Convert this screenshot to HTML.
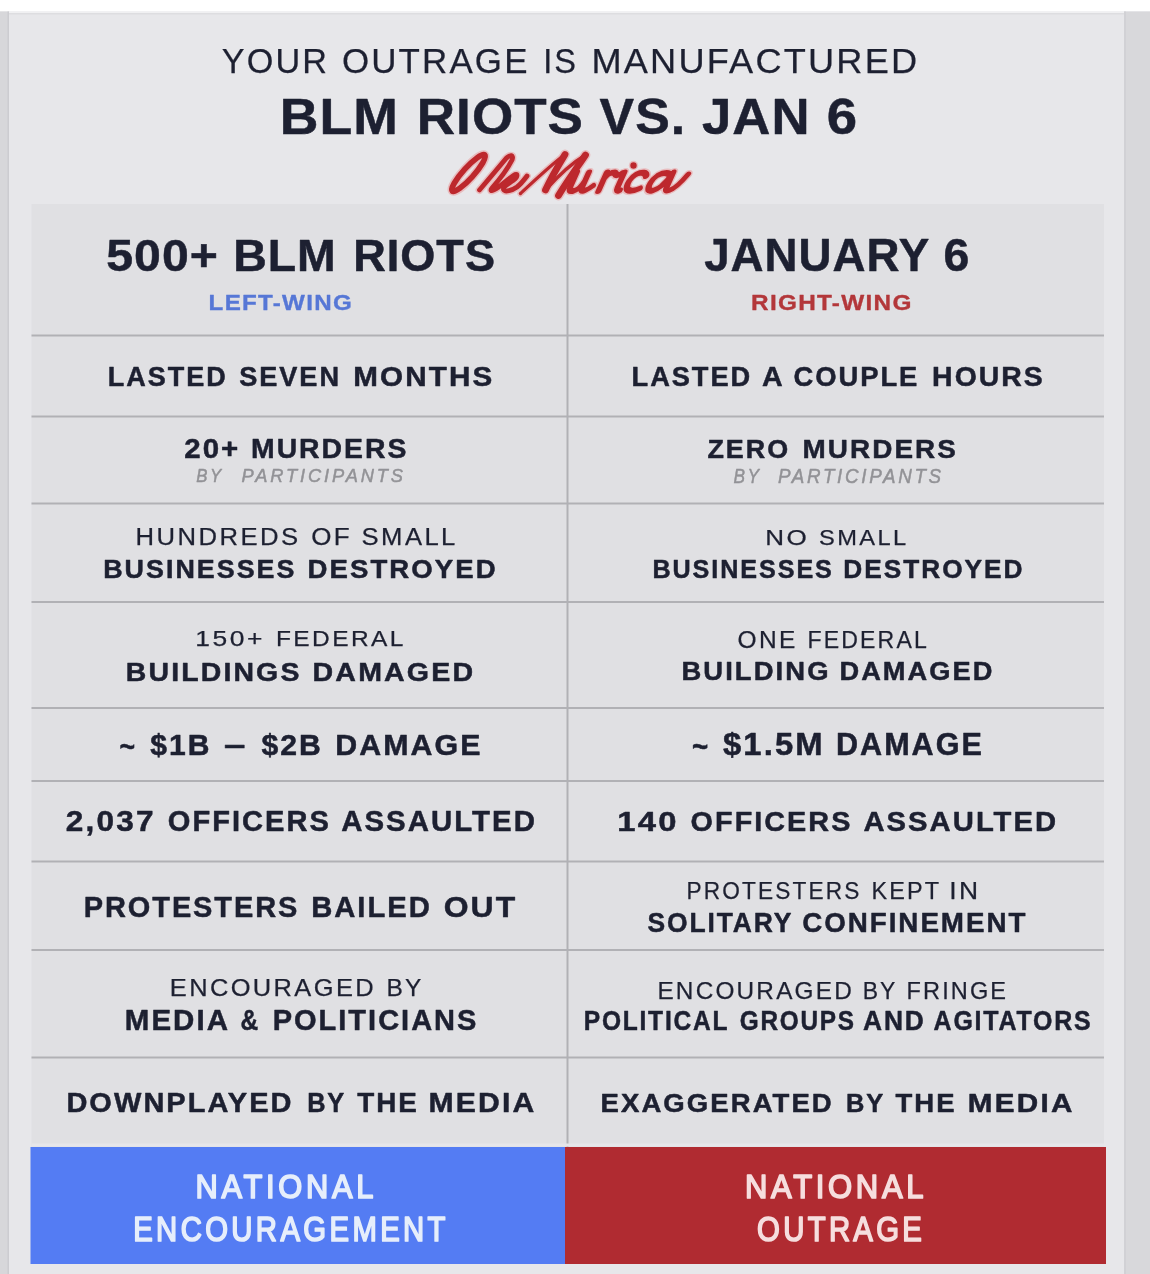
<!DOCTYPE html>
<html><head><meta charset="utf-8"><style>
html,body{margin:0;padding:0;width:1150px;height:1274px;overflow:hidden;background:#e7e7ea}
svg{display:block;filter:blur(0.75px)}
text{font-family:"Liberation Sans",sans-serif}
</style></head><body>
<svg width="1150" height="1274" viewBox="0 0 1150 1274">
<rect x="0" y="0" width="1150" height="1274" fill="#e7e7ea"/>
<rect x="0" y="0" width="1150" height="11.5" fill="#ffffff"/>
<rect x="0" y="11.5" width="1150" height="1.5" fill="#f0f0f2"/>
<rect x="0" y="13" width="1150" height="1.5" fill="#dddde0"/>
<rect x="0" y="11.5" width="9" height="1263" fill="#d7d7da"/>
<rect x="7.5" y="11.5" width="1.5" height="1263" fill="#ccccd0"/>
<rect x="1124" y="11.5" width="26" height="1263" fill="#d8d8db"/>
<rect x="1124" y="11.5" width="2" height="1263" fill="#d1d1d5"/>
<rect x="31.5" y="204" width="1072.5" height="943" fill="#e0e0e3"/>
<g fill="#b1b1b5">
<rect x="31.5" y="334.5" width="1072.5" height="2"/>
<rect x="31.5" y="415.5" width="1072.5" height="2"/>
<rect x="31.5" y="502.5" width="1072.5" height="2"/>
<rect x="31.5" y="601" width="1072.5" height="2"/>
<rect x="31.5" y="707" width="1072.5" height="2"/>
<rect x="31.5" y="780" width="1072.5" height="2"/>
<rect x="31.5" y="860.5" width="1072.5" height="2"/>
<rect x="31.5" y="949" width="1072.5" height="2"/>
<rect x="31.5" y="1056.5" width="1072.5" height="2"/>
<rect x="566.5" y="204" width="2" height="943"/>
</g>
<rect x="31.5" y="1143.5" width="1072.5" height="3" fill="#e6e6ea"/>
<rect x="30.5" y="1147" width="534.5" height="117" fill="#547cf3"/>
<rect x="565" y="1147" width="541" height="117" fill="#b02b31"/>

<text id="t1_0" x="221.80" y="73.40" font-size="35.79" textLength="107.30" lengthAdjust="spacingAndGlyphs" fill="#1d2031" stroke-width="0.25" stroke="#1d2031" stroke-linejoin="round" letter-spacing="2.20">YOUR</text>
<text id="t1_1" x="341.90" y="73.40" font-size="35.79" textLength="187.70" lengthAdjust="spacingAndGlyphs" fill="#1d2031" stroke-width="0.25" stroke="#1d2031" stroke-linejoin="round" letter-spacing="2.20">OUTRAGE</text>
<text id="t1_2" x="543.20" y="73.40" font-size="35.79" textLength="34.80" lengthAdjust="spacingAndGlyphs" fill="#1d2031" stroke-width="0.25" stroke="#1d2031" stroke-linejoin="round" letter-spacing="2.20">IS</text>
<text id="t1_3" x="591.40" y="73.40" font-size="35.79" textLength="328.00" lengthAdjust="spacingAndGlyphs" fill="#1d2031" stroke-width="0.25" stroke="#1d2031" stroke-linejoin="round" letter-spacing="2.20">MANUFACTURED</text>
<text id="t2_0" x="279.80" y="134.36" font-size="50.42" textLength="119.20" lengthAdjust="spacingAndGlyphs" fill="#1d2031" font-weight="bold" stroke-width="0.50" stroke="#1d2031" stroke-linejoin="round" letter-spacing="1.00">BLM</text>
<text id="t2_1" x="416.80" y="134.36" font-size="50.42" textLength="167.20" lengthAdjust="spacingAndGlyphs" fill="#1d2031" font-weight="bold" stroke-width="0.50" stroke="#1d2031" stroke-linejoin="round" letter-spacing="1.00">RIOTS</text>
<text id="t2_2" x="599.60" y="134.36" font-size="50.42" textLength="86.60" lengthAdjust="spacingAndGlyphs" fill="#1d2031" font-weight="bold" stroke-width="0.50" stroke="#1d2031" stroke-linejoin="round" letter-spacing="1.00">VS.</text>
<text id="t2_3" x="702.00" y="134.36" font-size="50.42" textLength="108.60" lengthAdjust="spacingAndGlyphs" fill="#1d2031" font-weight="bold" stroke-width="0.50" stroke="#1d2031" stroke-linejoin="round" letter-spacing="1.00">JAN</text>
<text id="t2_4" x="826.80" y="134.36" font-size="50.42" textLength="31.40" lengthAdjust="spacingAndGlyphs" fill="#1d2031" font-weight="bold" stroke-width="0.50" stroke="#1d2031" stroke-linejoin="round" letter-spacing="1.00">6</text>
<text id="h1_0" x="106.20" y="271.00" font-size="44.93" textLength="112.80" lengthAdjust="spacingAndGlyphs" fill="#1d2031" font-weight="bold" stroke-width="0.50" stroke="#1d2031" stroke-linejoin="round" letter-spacing="1.00">500+</text>
<text id="h1_1" x="233.20" y="271.00" font-size="44.93" textLength="103.60" lengthAdjust="spacingAndGlyphs" fill="#1d2031" font-weight="bold" stroke-width="0.50" stroke="#1d2031" stroke-linejoin="round" letter-spacing="1.00">BLM</text>
<text id="h1_2" x="353.20" y="271.00" font-size="44.93" textLength="142.80" lengthAdjust="spacingAndGlyphs" fill="#1d2031" font-weight="bold" stroke-width="0.50" stroke="#1d2031" stroke-linejoin="round" letter-spacing="1.00">RIOTS</text>
<text id="h1s" x="208.60" y="310.36" font-size="22.81" textLength="144.40" lengthAdjust="spacingAndGlyphs" fill="#5677d6" font-weight="bold" stroke-width="0.35" stroke="#5677d6" stroke-linejoin="round" letter-spacing="1.20" xml:space="preserve">LEFT-WING</text>
<text id="h2_0" x="704.20" y="271.40" font-size="46.71" textLength="226.00" lengthAdjust="spacingAndGlyphs" fill="#1d2031" font-weight="bold" stroke-width="0.50" stroke="#1d2031" stroke-linejoin="round" letter-spacing="1.00">JANUARY</text>
<text id="h2_1" x="943.40" y="271.40" font-size="46.71" textLength="26.80" lengthAdjust="spacingAndGlyphs" fill="#1d2031" font-weight="bold" stroke-width="0.50" stroke="#1d2031" stroke-linejoin="round" letter-spacing="1.00">6</text>
<text id="h2s" x="751.10" y="310.32" font-size="22.74" textLength="161.50" lengthAdjust="spacingAndGlyphs" fill="#b3373a" font-weight="bold" stroke-width="0.35" stroke="#b3373a" stroke-linejoin="round" letter-spacing="1.20" xml:space="preserve">RIGHT-WING</text>
<text id="r1a_0" x="107.80" y="386.40" font-size="27.54" textLength="120.00" lengthAdjust="spacingAndGlyphs" fill="#1d2031" font-weight="bold" stroke-width="0.50" stroke="#1d2031" stroke-linejoin="round" letter-spacing="2.00">LASTED</text>
<text id="r1a_1" x="239.20" y="386.40" font-size="27.54" textLength="101.80" lengthAdjust="spacingAndGlyphs" fill="#1d2031" font-weight="bold" stroke-width="0.50" stroke="#1d2031" stroke-linejoin="round" letter-spacing="2.00">SEVEN</text>
<text id="r1a_2" x="353.20" y="386.40" font-size="27.54" textLength="141.20" lengthAdjust="spacingAndGlyphs" fill="#1d2031" font-weight="bold" stroke-width="0.50" stroke="#1d2031" stroke-linejoin="round" letter-spacing="2.00">MONTHS</text>
<text id="r1b_0" x="631.60" y="386.36" font-size="28.22" textLength="120.50" lengthAdjust="spacingAndGlyphs" fill="#1d2031" font-weight="bold" stroke-width="0.50" stroke="#1d2031" stroke-linejoin="round" letter-spacing="2.00">LASTED</text>
<text id="r1b_1" x="762.00" y="386.36" font-size="28.22" textLength="22.70" lengthAdjust="spacingAndGlyphs" fill="#1d2031" font-weight="bold" stroke-width="0.50" stroke="#1d2031" stroke-linejoin="round" letter-spacing="2.00">A</text>
<text id="r1b_2" x="793.50" y="386.36" font-size="28.22" textLength="125.80" lengthAdjust="spacingAndGlyphs" fill="#1d2031" font-weight="bold" stroke-width="0.50" stroke="#1d2031" stroke-linejoin="round" letter-spacing="2.00">COUPLE</text>
<text id="r1b_3" x="932.10" y="386.36" font-size="28.22" textLength="112.70" lengthAdjust="spacingAndGlyphs" fill="#1d2031" font-weight="bold" stroke-width="0.50" stroke="#1d2031" stroke-linejoin="round" letter-spacing="2.00">HOURS</text>
<text id="r2a_0" x="184.20" y="458.40" font-size="28.40" textLength="56.20" lengthAdjust="spacingAndGlyphs" fill="#1d2031" font-weight="bold" stroke-width="0.50" stroke="#1d2031" stroke-linejoin="round" letter-spacing="2.00">20+</text>
<text id="r2a_1" x="251.00" y="458.40" font-size="28.40" textLength="157.40" lengthAdjust="spacingAndGlyphs" fill="#1d2031" font-weight="bold" stroke-width="0.50" stroke="#1d2031" stroke-linejoin="round" letter-spacing="2.00">MURDERS</text>
<text id="r2as_0" x="196.20" y="482.04" font-size="19.17" textLength="27.60" lengthAdjust="spacingAndGlyphs" fill="#929296" font-style="italic" stroke-width="0.50" stroke="#929296" stroke-linejoin="round" letter-spacing="3.00">BY</text>
<text id="r2as_1" x="241.60" y="482.04" font-size="19.17" textLength="164.20" lengthAdjust="spacingAndGlyphs" fill="#929296" font-style="italic" stroke-width="0.50" stroke="#929296" stroke-linejoin="round" letter-spacing="3.00">PARTICIPANTS</text>
<text id="r2b_0" x="707.40" y="458.36" font-size="26.60" textLength="82.80" lengthAdjust="spacingAndGlyphs" fill="#1d2031" font-weight="bold" stroke-width="0.50" stroke="#1d2031" stroke-linejoin="round" letter-spacing="2.00">ZERO</text>
<text id="r2b_1" x="802.40" y="458.36" font-size="26.60" textLength="155.60" lengthAdjust="spacingAndGlyphs" fill="#1d2031" font-weight="bold" stroke-width="0.50" stroke="#1d2031" stroke-linejoin="round" letter-spacing="2.00">MURDERS</text>
<text id="r2bs_0" x="733.40" y="482.64" font-size="21.02" textLength="28.00" lengthAdjust="spacingAndGlyphs" fill="#929296" font-style="italic" stroke-width="0.50" stroke="#929296" stroke-linejoin="round" letter-spacing="3.00">BY</text>
<text id="r2bs_1" x="778.00" y="482.64" font-size="21.02" textLength="165.80" lengthAdjust="spacingAndGlyphs" fill="#929296" font-style="italic" stroke-width="0.50" stroke="#929296" stroke-linejoin="round" letter-spacing="3.00">PARTICIPANTS</text>
<text id="r3a1_0" x="135.60" y="545.00" font-size="23.10" textLength="165.00" lengthAdjust="spacingAndGlyphs" fill="#1d2031" stroke-width="0.25" stroke="#1d2031" stroke-linejoin="round" letter-spacing="2.20">HUNDREDS</text>
<text id="r3a1_1" x="311.20" y="545.00" font-size="23.10" textLength="41.00" lengthAdjust="spacingAndGlyphs" fill="#1d2031" stroke-width="0.25" stroke="#1d2031" stroke-linejoin="round" letter-spacing="2.20">OF</text>
<text id="r3a1_2" x="361.60" y="545.00" font-size="23.10" textLength="96.20" lengthAdjust="spacingAndGlyphs" fill="#1d2031" stroke-width="0.25" stroke="#1d2031" stroke-linejoin="round" letter-spacing="2.20">SMALL</text>
<text id="r3a2_0" x="103.20" y="577.96" font-size="26.42" textLength="193.30" lengthAdjust="spacingAndGlyphs" fill="#1d2031" font-weight="bold" stroke-width="0.50" stroke="#1d2031" stroke-linejoin="round" letter-spacing="2.00">BUSINESSES</text>
<text id="r3a2_1" x="307.50" y="577.96" font-size="26.42" textLength="190.30" lengthAdjust="spacingAndGlyphs" fill="#1d2031" font-weight="bold" stroke-width="0.50" stroke="#1d2031" stroke-linejoin="round" letter-spacing="2.00">DESTROYED</text>
<text id="r3b1_0" x="765.20" y="545.32" font-size="21.91" textLength="44.30" lengthAdjust="spacingAndGlyphs" fill="#1d2031" stroke-width="0.25" stroke="#1d2031" stroke-linejoin="round" letter-spacing="2.20">NO</text>
<text id="r3b1_1" x="819.10" y="545.32" font-size="21.91" textLength="89.50" lengthAdjust="spacingAndGlyphs" fill="#1d2031" stroke-width="0.25" stroke="#1d2031" stroke-linejoin="round" letter-spacing="2.20">SMALL</text>
<text id="r3b2_0" x="652.40" y="578.32" font-size="26.09" textLength="181.40" lengthAdjust="spacingAndGlyphs" fill="#1d2031" font-weight="bold" stroke-width="0.50" stroke="#1d2031" stroke-linejoin="round" letter-spacing="2.00">BUSINESSES</text>
<text id="r3b2_1" x="843.20" y="578.32" font-size="26.09" textLength="181.40" lengthAdjust="spacingAndGlyphs" fill="#1d2031" font-weight="bold" stroke-width="0.50" stroke="#1d2031" stroke-linejoin="round" letter-spacing="2.00">DESTROYED</text>
<text id="r4a1_0" x="195.20" y="646.40" font-size="22.65" textLength="69.80" lengthAdjust="spacingAndGlyphs" fill="#1d2031" stroke-width="0.25" stroke="#1d2031" stroke-linejoin="round" letter-spacing="2.20">150+</text>
<text id="r4a1_1" x="276.00" y="646.40" font-size="22.65" textLength="129.80" lengthAdjust="spacingAndGlyphs" fill="#1d2031" stroke-width="0.25" stroke="#1d2031" stroke-linejoin="round" letter-spacing="2.20">FEDERAL</text>
<text id="r4a2_0" x="125.80" y="681.04" font-size="26.43" textLength="175.70" lengthAdjust="spacingAndGlyphs" fill="#1d2031" font-weight="bold" stroke-width="0.50" stroke="#1d2031" stroke-linejoin="round" letter-spacing="2.00">BUILDINGS</text>
<text id="r4a2_1" x="312.60" y="681.04" font-size="26.43" textLength="162.60" lengthAdjust="spacingAndGlyphs" fill="#1d2031" font-weight="bold" stroke-width="0.50" stroke="#1d2031" stroke-linejoin="round" letter-spacing="2.00">DAMAGED</text>
<text id="r4b1_0" x="737.60" y="647.64" font-size="23.36" textLength="60.00" lengthAdjust="spacingAndGlyphs" fill="#1d2031" stroke-width="0.25" stroke="#1d2031" stroke-linejoin="round" letter-spacing="2.20">ONE</text>
<text id="r4b1_1" x="807.40" y="647.64" font-size="23.36" textLength="121.60" lengthAdjust="spacingAndGlyphs" fill="#1d2031" stroke-width="0.25" stroke="#1d2031" stroke-linejoin="round" letter-spacing="2.20">FEDERAL</text>
<text id="r4b2_0" x="681.40" y="680.32" font-size="26.13" textLength="149.20" lengthAdjust="spacingAndGlyphs" fill="#1d2031" font-weight="bold" stroke-width="0.50" stroke="#1d2031" stroke-linejoin="round" letter-spacing="2.00">BUILDING</text>
<text id="r4b2_1" x="839.40" y="680.32" font-size="26.13" textLength="155.20" lengthAdjust="spacingAndGlyphs" fill="#1d2031" font-weight="bold" stroke-width="0.50" stroke="#1d2031" stroke-linejoin="round" letter-spacing="2.00">DAMAGED</text>
<text id="r5a_0" x="119.40" y="757.10" font-size="28.99" textLength="17.40" lengthAdjust="spacingAndGlyphs" fill="#1d2031" font-weight="bold" stroke-width="0.50" stroke="#1d2031" stroke-linejoin="round" letter-spacing="2.00">~</text>
<text id="r5a_1" x="150.20" y="754.60" font-size="28.99" textLength="61.40" lengthAdjust="spacingAndGlyphs" fill="#1d2031" font-weight="bold" stroke-width="0.50" stroke="#1d2031" stroke-linejoin="round" letter-spacing="2.00">$1B</text>
<text id="r5a_2" x="224.00" y="754.60" font-size="28.99" textLength="24.00" lengthAdjust="spacingAndGlyphs" fill="#1d2031" font-weight="bold" stroke-width="0.50" stroke="#1d2031" stroke-linejoin="round" letter-spacing="2.00">–</text>
<text id="r5a_3" x="261.40" y="754.60" font-size="28.99" textLength="61.60" lengthAdjust="spacingAndGlyphs" fill="#1d2031" font-weight="bold" stroke-width="0.50" stroke="#1d2031" stroke-linejoin="round" letter-spacing="2.00">$2B</text>
<text id="r5a_4" x="335.20" y="754.60" font-size="28.99" textLength="147.40" lengthAdjust="spacingAndGlyphs" fill="#1d2031" font-weight="bold" stroke-width="0.50" stroke="#1d2031" stroke-linejoin="round" letter-spacing="2.00">DAMAGE</text>
<text id="r5b_0" x="692.00" y="756.60" font-size="30.87" textLength="18.00" lengthAdjust="spacingAndGlyphs" fill="#1d2031" font-weight="bold" stroke-width="0.50" stroke="#1d2031" stroke-linejoin="round" letter-spacing="2.00">~</text>
<text id="r5b_1" x="723.00" y="754.60" font-size="30.87" textLength="101.80" lengthAdjust="spacingAndGlyphs" fill="#1d2031" font-weight="bold" stroke-width="0.50" stroke="#1d2031" stroke-linejoin="round" letter-spacing="2.00">$1.5M</text>
<text id="r5b_2" x="836.00" y="754.60" font-size="30.87" textLength="147.80" lengthAdjust="spacingAndGlyphs" fill="#1d2031" font-weight="bold" stroke-width="0.50" stroke="#1d2031" stroke-linejoin="round" letter-spacing="2.00">DAMAGE</text>
<text id="r6a_0" x="65.80" y="830.90" font-size="28.84" textLength="90.00" lengthAdjust="spacingAndGlyphs" fill="#1d2031" font-weight="bold" stroke-width="0.50" stroke="#1d2031" stroke-linejoin="round" letter-spacing="2.00">2,037</text>
<text id="r6a_1" x="167.80" y="830.90" font-size="28.84" textLength="163.00" lengthAdjust="spacingAndGlyphs" fill="#1d2031" font-weight="bold" stroke-width="0.50" stroke="#1d2031" stroke-linejoin="round" letter-spacing="2.00">OFFICERS</text>
<text id="r6a_2" x="341.20" y="830.90" font-size="28.84" textLength="195.80" lengthAdjust="spacingAndGlyphs" fill="#1d2031" font-weight="bold" stroke-width="0.50" stroke="#1d2031" stroke-linejoin="round" letter-spacing="2.00">ASSAULTED</text>
<text id="r6b_0" x="617.20" y="830.68" font-size="28.53" textLength="61.60" lengthAdjust="spacingAndGlyphs" fill="#1d2031" font-weight="bold" stroke-width="0.50" stroke="#1d2031" stroke-linejoin="round" letter-spacing="2.00">140</text>
<text id="r6b_1" x="690.60" y="830.68" font-size="28.53" textLength="161.80" lengthAdjust="spacingAndGlyphs" fill="#1d2031" font-weight="bold" stroke-width="0.50" stroke="#1d2031" stroke-linejoin="round" letter-spacing="2.00">OFFICERS</text>
<text id="r6b_2" x="863.40" y="830.68" font-size="28.53" textLength="194.80" lengthAdjust="spacingAndGlyphs" fill="#1d2031" font-weight="bold" stroke-width="0.50" stroke="#1d2031" stroke-linejoin="round" letter-spacing="2.00">ASSAULTED</text>
<text id="r7a_0" x="83.80" y="916.96" font-size="30.10" textLength="215.40" lengthAdjust="spacingAndGlyphs" fill="#1d2031" font-weight="bold" stroke-width="0.50" stroke="#1d2031" stroke-linejoin="round" letter-spacing="2.00">PROTESTERS</text>
<text id="r7a_1" x="311.20" y="916.96" font-size="30.10" textLength="120.50" lengthAdjust="spacingAndGlyphs" fill="#1d2031" font-weight="bold" stroke-width="0.50" stroke="#1d2031" stroke-linejoin="round" letter-spacing="2.00">BAILED</text>
<text id="r7a_2" x="443.70" y="916.96" font-size="30.10" textLength="73.70" lengthAdjust="spacingAndGlyphs" fill="#1d2031" font-weight="bold" stroke-width="0.50" stroke="#1d2031" stroke-linejoin="round" letter-spacing="2.00">OUT</text>
<text id="r7b1_0" x="686.60" y="898.96" font-size="23.39" textLength="174.80" lengthAdjust="spacingAndGlyphs" fill="#1d2031" stroke-width="0.25" stroke="#1d2031" stroke-linejoin="round" letter-spacing="2.20">PROTESTERS</text>
<text id="r7b1_1" x="871.40" y="898.96" font-size="23.39" textLength="70.00" lengthAdjust="spacingAndGlyphs" fill="#1d2031" stroke-width="0.25" stroke="#1d2031" stroke-linejoin="round" letter-spacing="2.20">KEPT</text>
<text id="r7b1_2" x="949.20" y="898.96" font-size="23.39" textLength="31.40" lengthAdjust="spacingAndGlyphs" fill="#1d2031" stroke-width="0.25" stroke="#1d2031" stroke-linejoin="round" letter-spacing="2.20">IN</text>
<text id="r7b2_0" x="647.60" y="932.32" font-size="28.41" textLength="145.60" lengthAdjust="spacingAndGlyphs" fill="#1d2031" font-weight="bold" stroke-width="0.50" stroke="#1d2031" stroke-linejoin="round" letter-spacing="2.00">SOLITARY</text>
<text id="r7b2_1" x="802.20" y="932.32" font-size="28.41" textLength="225.20" lengthAdjust="spacingAndGlyphs" fill="#1d2031" font-weight="bold" stroke-width="0.50" stroke="#1d2031" stroke-linejoin="round" letter-spacing="2.00">CONFINEMENT</text>
<text id="r8a1_0" x="169.80" y="996.32" font-size="23.39" textLength="206.20" lengthAdjust="spacingAndGlyphs" fill="#1d2031" stroke-width="0.25" stroke="#1d2031" stroke-linejoin="round" letter-spacing="2.20">ENCOURAGED</text>
<text id="r8a1_1" x="386.40" y="996.32" font-size="23.39" textLength="37.30" lengthAdjust="spacingAndGlyphs" fill="#1d2031" stroke-width="0.25" stroke="#1d2031" stroke-linejoin="round" letter-spacing="2.20">BY</text>
<text id="r8a2_0" x="124.80" y="1029.80" font-size="28.84" textLength="105.20" lengthAdjust="spacingAndGlyphs" fill="#1d2031" font-weight="bold" stroke-width="0.50" stroke="#1d2031" stroke-linejoin="round" letter-spacing="2.00">MEDIA</text>
<text id="r8a2_1" x="240.40" y="1029.80" font-size="28.84" textLength="19.40" lengthAdjust="spacingAndGlyphs" fill="#1d2031" font-weight="bold" stroke-width="0.50" stroke="#1d2031" stroke-linejoin="round" letter-spacing="2.00">&amp;</text>
<text id="r8a2_2" x="272.70" y="1029.80" font-size="28.84" textLength="205.70" lengthAdjust="spacingAndGlyphs" fill="#1d2031" font-weight="bold" stroke-width="0.50" stroke="#1d2031" stroke-linejoin="round" letter-spacing="2.00">POLITICIANS</text>
<text id="r8b1_0" x="657.40" y="998.68" font-size="24.39" textLength="196.60" lengthAdjust="spacingAndGlyphs" fill="#1d2031" stroke-width="0.25" stroke="#1d2031" stroke-linejoin="round" letter-spacing="2.20">ENCOURAGED</text>
<text id="r8b1_1" x="862.70" y="998.68" font-size="24.39" textLength="34.80" lengthAdjust="spacingAndGlyphs" fill="#1d2031" stroke-width="0.25" stroke="#1d2031" stroke-linejoin="round" letter-spacing="2.20">BY</text>
<text id="r8b1_2" x="906.50" y="998.68" font-size="24.39" textLength="101.70" lengthAdjust="spacingAndGlyphs" fill="#1d2031" stroke-width="0.25" stroke="#1d2031" stroke-linejoin="round" letter-spacing="2.20">FRINGE</text>
<text id="r8b2_0" x="583.80" y="1029.68" font-size="27.92" textLength="145.40" lengthAdjust="spacingAndGlyphs" fill="#1d2031" font-weight="bold" stroke-width="0.50" stroke="#1d2031" stroke-linejoin="round" letter-spacing="2.00">POLITICAL</text>
<text id="r8b2_1" x="739.80" y="1029.68" font-size="27.92" textLength="116.00" lengthAdjust="spacingAndGlyphs" fill="#1d2031" font-weight="bold" stroke-width="0.50" stroke="#1d2031" stroke-linejoin="round" letter-spacing="2.00">GROUPS</text>
<text id="r8b2_2" x="863.00" y="1029.68" font-size="27.92" textLength="62.80" lengthAdjust="spacingAndGlyphs" fill="#1d2031" font-weight="bold" stroke-width="0.50" stroke="#1d2031" stroke-linejoin="round" letter-spacing="2.00">AND</text>
<text id="r8b2_3" x="933.60" y="1029.68" font-size="27.92" textLength="158.80" lengthAdjust="spacingAndGlyphs" fill="#1d2031" font-weight="bold" stroke-width="0.50" stroke="#1d2031" stroke-linejoin="round" letter-spacing="2.00">AGITATORS</text>
<text id="r9a_0" x="66.40" y="1111.96" font-size="28.22" textLength="227.20" lengthAdjust="spacingAndGlyphs" fill="#1d2031" font-weight="bold" stroke-width="0.50" stroke="#1d2031" stroke-linejoin="round" letter-spacing="2.00">DOWNPLAYED</text>
<text id="r9a_1" x="307.20" y="1111.96" font-size="28.22" textLength="38.80" lengthAdjust="spacingAndGlyphs" fill="#1d2031" font-weight="bold" stroke-width="0.50" stroke="#1d2031" stroke-linejoin="round" letter-spacing="2.00">BY</text>
<text id="r9a_2" x="357.20" y="1111.96" font-size="28.22" textLength="61.60" lengthAdjust="spacingAndGlyphs" fill="#1d2031" font-weight="bold" stroke-width="0.50" stroke="#1d2031" stroke-linejoin="round" letter-spacing="2.00">THE</text>
<text id="r9a_3" x="428.60" y="1111.96" font-size="28.22" textLength="107.80" lengthAdjust="spacingAndGlyphs" fill="#1d2031" font-weight="bold" stroke-width="0.50" stroke="#1d2031" stroke-linejoin="round" letter-spacing="2.00">MEDIA</text>
<text id="r9b_0" x="600.60" y="1111.68" font-size="26.50" textLength="233.20" lengthAdjust="spacingAndGlyphs" fill="#1d2031" font-weight="bold" stroke-width="0.50" stroke="#1d2031" stroke-linejoin="round" letter-spacing="2.00">EXAGGERATED</text>
<text id="r9b_1" x="846.00" y="1111.68" font-size="26.50" textLength="39.20" lengthAdjust="spacingAndGlyphs" fill="#1d2031" font-weight="bold" stroke-width="0.50" stroke="#1d2031" stroke-linejoin="round" letter-spacing="2.00">BY</text>
<text id="r9b_2" x="895.40" y="1111.68" font-size="26.50" textLength="61.20" lengthAdjust="spacingAndGlyphs" fill="#1d2031" font-weight="bold" stroke-width="0.50" stroke="#1d2031" stroke-linejoin="round" letter-spacing="2.00">THE</text>
<text id="r9b_3" x="967.80" y="1111.68" font-size="26.50" textLength="106.80" lengthAdjust="spacingAndGlyphs" fill="#1d2031" font-weight="bold" stroke-width="0.50" stroke="#1d2031" stroke-linejoin="round" letter-spacing="2.00">MEDIA</text>
<text id="bb1" x="195.60" y="1197.64" font-size="33.77" textLength="181.40" lengthAdjust="spacingAndGlyphs" fill="#e6eefb" stroke-width="1.70" stroke="#e6eefb" stroke-linejoin="round" letter-spacing="4.00" xml:space="preserve">NATIONAL</text>
<text id="bb2" x="133.20" y="1241.24" font-size="34.90" textLength="315.70" lengthAdjust="spacingAndGlyphs" fill="#e6eefb" stroke-width="1.70" stroke="#e6eefb" stroke-linejoin="round" letter-spacing="4.00" xml:space="preserve">ENCOURAGEMENT</text>
<text id="rb1" x="745.00" y="1198.20" font-size="33.87" textLength="182.20" lengthAdjust="spacingAndGlyphs" fill="#f6dede" stroke-width="1.70" stroke="#f6dede" stroke-linejoin="round" letter-spacing="4.00" xml:space="preserve">NATIONAL</text>
<text id="rb2" x="757.10" y="1241.32" font-size="35.87" textLength="168.10" lengthAdjust="spacingAndGlyphs" fill="#f6dede" stroke-width="1.70" stroke="#f6dede" stroke-linejoin="round" letter-spacing="4.00" xml:space="preserve">OUTRAGE</text>
<g fill="none" stroke="#e9a7a9" stroke-linecap="round" stroke-linejoin="round" opacity="0.65">
<ellipse cx="468.5" cy="173" rx="24.3" ry="5.3" transform="rotate(-48 468.5 173)" stroke-width="8.60"/>
<path stroke-width="7.80" d="M479.5,190 C488,180 499,167 506,158.5 C510.5,154 514,155 512,160 C508,168 499,180 492,188 C489,191.5 493,191.5 498,187.5 C504,183 509,178.5 513.5,175.5 C518,172.5 518.5,176.5 513,180.5 C508,184 503,186.5 503.5,189.5 C505,192.5 512,190.5 517,187 C521,184 524,180 527,176"/>
<path stroke-width="6.40" d="M520.5,193.5 C535,180 552,164 565,154.5"/>
<path stroke-width="9.80" d="M565,154.5 C558,166 551,178 545.5,190"/>
<path stroke-width="6.40" d="M545.5,190 C558,176 572,163 585.5,155"/>
<path stroke-width="9.80" d="M585.5,155 C576,169 566,183 558.5,195.5"/>
<g transform="translate(-1.5 191) skewX(-24) translate(0 -191)">
<path stroke-width="9.00" d="M570,172.5 L570,186 C570,190 572,191.5 575,191 C579,190 581,185 582,180 M582,172.5 L582,187 C582,190 583.5,191 586,190.5 C588,190 590,188 592,186"/>
<path stroke-width="9.00" d="M600,191 L600,172.5 M600,179 C601.5,174.5 604,172.5 607,172.5 C609,172.5 609.5,174.5 611,175 C612.5,175.5 614,174.5 615,173.5"/>
<path stroke-width="9.00" d="M617.5,172.5 L617.5,187 C617.5,190 619,191 621,190.5"/>
<path stroke-width="9.00" d="M641,176 C639.5,172.5 634,171.5 630,174.5 C626,177.5 625,184 627,188 C629,191.5 635,191.5 640,188.5"/>
<path stroke-width="9.00" d="M665,175.5 C662,172 656,172 652,175.5 C648,179.5 647,186 649.5,189.5 C652,192 657,190.5 660.5,186 C663,182.5 665,178 666.5,172.5 L666.5,187 C666.5,190 668,191 671,190 C675,188.5 679,182 682,174.5"/>
</g>
<circle cx="633.5" cy="165.5" r="4.70" fill="#e9a7a9" stroke="none"/>
</g>
<g fill="none" stroke="#bd282d" stroke-linecap="round" stroke-linejoin="round">
<ellipse cx="468.5" cy="173" rx="24.3" ry="5.3" transform="rotate(-48 468.5 173)" stroke-width="5.60"/>
<path stroke-width="4.80" d="M479.5,190 C488,180 499,167 506,158.5 C510.5,154 514,155 512,160 C508,168 499,180 492,188 C489,191.5 493,191.5 498,187.5 C504,183 509,178.5 513.5,175.5 C518,172.5 518.5,176.5 513,180.5 C508,184 503,186.5 503.5,189.5 C505,192.5 512,190.5 517,187 C521,184 524,180 527,176"/>
<path stroke-width="3.40" d="M520.5,193.5 C535,180 552,164 565,154.5"/>
<path stroke-width="6.80" d="M565,154.5 C558,166 551,178 545.5,190"/>
<path stroke-width="3.40" d="M545.5,190 C558,176 572,163 585.5,155"/>
<path stroke-width="6.80" d="M585.5,155 C576,169 566,183 558.5,195.5"/>
<g transform="translate(-1.5 191) skewX(-24) translate(0 -191)">
<path stroke-width="6.00" d="M570,172.5 L570,186 C570,190 572,191.5 575,191 C579,190 581,185 582,180 M582,172.5 L582,187 C582,190 583.5,191 586,190.5 C588,190 590,188 592,186"/>
<path stroke-width="6.00" d="M600,191 L600,172.5 M600,179 C601.5,174.5 604,172.5 607,172.5 C609,172.5 609.5,174.5 611,175 C612.5,175.5 614,174.5 615,173.5"/>
<path stroke-width="6.00" d="M617.5,172.5 L617.5,187 C617.5,190 619,191 621,190.5"/>
<path stroke-width="6.00" d="M641,176 C639.5,172.5 634,171.5 630,174.5 C626,177.5 625,184 627,188 C629,191.5 635,191.5 640,188.5"/>
<path stroke-width="6.00" d="M665,175.5 C662,172 656,172 652,175.5 C648,179.5 647,186 649.5,189.5 C652,192 657,190.5 660.5,186 C663,182.5 665,178 666.5,172.5 L666.5,187 C666.5,190 668,191 671,190 C675,188.5 679,182 682,174.5"/>
</g>
<circle cx="633.5" cy="165.5" r="3.20" fill="#bd282d" stroke="none"/>
</g>

</svg>
</body></html>
